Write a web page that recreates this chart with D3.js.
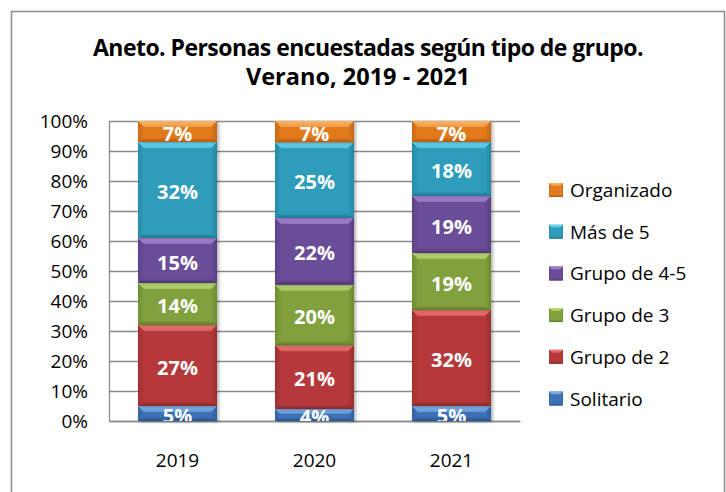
<!DOCTYPE html>
<html>
<head>
<meta charset="utf-8">
<script src="https://cdn.jsdelivr.net/npm/d3@7"></script>
<style>
  html, body { margin: 0; padding: 0; background: #fff; }
  svg { display: block; }
  text { font-family: "Open Sans", "Noto Sans", sans-serif; }
</style>
</head>
<body>
<svg id="chart" width="726" height="492"></svg>
<script>
// Survey share by group type, summer seasons
const years = ["2019", "2020", "2021"];
const seriesNames = ["Solitario", "Grupo de 2", "Grupo de 3", "Grupo de 4-5", "Más de 5", "Organizado"];
const solitario  = [5, 4, 5];
const grupo2     = [27, 21, 32];
const grupo3     = [14, 20, 19];
const grupo45    = [15, 22, 19];
const masDe5     = [32, 25, 18];
const organizado = [7, 7, 7];
const yTicks = [0, 0.1, 0.2, 0.3, 0.4, 0.5, 0.6, 0.7, 0.8, 0.9, 1];
const titleLines = ["Aneto.  Personas encuestadas según tipo de grupo.", "Verano, 2019 - 2021"];

// face / highlight / shade per series
const palette = {
  "Solitario":    { face: "#3d71b6", light: "#86b6ee", dark: "#2a548c" },
  "Grupo de 2":   { face: "#b5393a", light: "#f57c78", dark: "#852829" },
  "Grupo de 3":   { face: "#80a13c", light: "#c2e07a", dark: "#5e7a2a" },
  "Grupo de 4-5": { face: "#6a4d98", light: "#ad8dd8", dark: "#4b3673" },
  "Más de 5":     { face: "#2f9dbb", light: "#6edcf3", dark: "#1f7690" },
  "Organizado":   { face: "#e27a1f", light: "#fab466", dark: "#b05a10" }
};

const seriesValues = [solitario, grupo2, grupo3, grupo45, masDe5, organizado];

const rows = years.map((y, i) => {
  const r = { year: y };
  seriesNames.forEach((s, k) => { r[s] = seriesValues[k][i]; });
  return r;
});

const stacked = d3.stack().keys(seriesNames).offset(d3.stackOffsetExpand)(rows);

const svg = d3.select("#chart");
const defs = svg.append("defs");
const plot = { left: 109, right: 520, top: 121, bottom: 421 };

const x = d3.scaleBand().domain(years).range([plot.left, plot.right]).paddingInner(0.423).paddingOuter(0.2115);
const y = d3.scaleLinear().domain([0, 1]).range([plot.bottom, plot.top]);

// gradients for the bevel faces
seriesNames.forEach((s, k) => {
  const c = palette[s];
  const top = defs.append("linearGradient").attr("id", "top" + k).attr("x1", 0).attr("y1", 0).attr("x2", 0).attr("y2", 1);
  top.append("stop").attr("offset", 0).attr("stop-color", c.light);
  top.append("stop").attr("offset", 1).attr("stop-color", d3.interpolateRgb(c.light, c.face)(0.45));
  const bot = defs.append("linearGradient").attr("id", "bot" + k).attr("x1", 0).attr("y1", 0).attr("x2", 0).attr("y2", 1);
  bot.append("stop").attr("offset", 0).attr("stop-color", c.face);
  bot.append("stop").attr("offset", 1).attr("stop-color", c.dark);
  const face = defs.append("linearGradient").attr("id", "face" + k).attr("x1", 0).attr("y1", 0).attr("x2", 1).attr("y2", 0);
  face.append("stop").attr("offset", 0).attr("stop-color", d3.interpolateRgb(c.face, c.dark)(0.5));
  face.append("stop").attr("offset", 0.08).attr("stop-color", c.face);
  face.append("stop").attr("offset", 0.92).attr("stop-color", c.face);
  face.append("stop").attr("offset", 1).attr("stop-color", d3.interpolateRgb(c.face, c.dark)(0.6));
});

// outer frame
svg.append("rect").attr("x", 11.5).attr("y", 11.5).attr("width", 713).attr("height", 500)
  .attr("fill", "#fff").attr("stroke", "#8c8c8c").attr("stroke-width", 1.5);

// title
svg.append("text").attr("text-anchor", "middle")
  .attr("x", 368).attr("y", 56)
  .attr("font-weight", "700").attr("font-size", 23).attr("letter-spacing", -0.55).attr("fill", "#000")
  .text(titleLines[0]);
svg.append("text").attr("text-anchor", "middle")
  .attr("x", 358).attr("y", 85)
  .attr("font-weight", "700").attr("font-size", 23.5).attr("fill", "#000")
  .text(titleLines[1]);

// gridlines
svg.append("g")
  .attr("transform", `translate(${plot.left},0)`)
  .call(d3.axisLeft(y).tickValues(yTicks).tickSize(-(plot.right - plot.left)).tickFormat(""))
  .call(g => g.select(".domain").remove())
  .call(g => g.selectAll("line").attr("stroke", "#8a8a8a").attr("stroke-width", 1.3));

// y axis labels
svg.append("g")
  .attr("transform", `translate(${plot.left},0)`)
  .call(d3.axisLeft(y).tickValues(yTicks).tickSize(0).tickPadding(21).tickFormat(d3.format(".0%")))
  .call(g => g.select(".domain").attr("stroke", "#8a8a8a").attr("stroke-width", 1.3))
  .call(g => g.selectAll("text").attr("font-size", 19).attr("fill", "#000")
    .attr("font-family", "'Open Sans', sans-serif"));

// x axis
svg.append("g")
  .attr("transform", `translate(0,${plot.bottom})`)
  .call(d3.axisBottom(x).tickSize(0).tickPadding(33))
  .call(g => g.select(".domain").attr("stroke", "#8a8a8a").attr("stroke-width", 1.3))
  .call(g => g.selectAll("text").attr("font-size", 19).attr("fill", "#000")
    .attr("font-family", "'Open Sans', sans-serif"));

// clip for segment labels
svg.append("clipPath").attr("id", "plotClip")
  .append("rect").attr("x", plot.left).attr("y", plot.top - 2)
  .attr("width", plot.right - plot.left).attr("height", plot.bottom - plot.top + 2);

// bar shadow
const shadow = defs.append("filter").attr("id", "shadow").attr("x", "-10%").attr("y", "-10%").attr("width", "130%").attr("height", "130%");
shadow.append("feGaussianBlur").attr("in", "SourceAlpha").attr("stdDeviation", 1.5).attr("result", "b");
shadow.append("feOffset").attr("in", "b").attr("dx", 2).attr("dy", 1).attr("result", "o");
shadow.append("feComponentTransfer").attr("in", "o").attr("result", "s")
  .append("feFuncA").attr("type", "linear").attr("slope", 0.3);
const fm = shadow.append("feMerge");
fm.append("feMergeNode").attr("in", "s");
fm.append("feMergeNode").attr("in", "SourceGraphic");

const bars = svg.append("g");
const bw = x.bandwidth();
const pts = a => a.map(p => p.join(",")).join(" ");

stacked.forEach((layer, k) => {
  layer.forEach(d => {
    const x0 = x(d.data.year), x1 = x0 + bw;
    const yTop = y(d[1]), yBot = y(d[0]);
    const h = yBot - yTop;
    const b = Math.min(6, h / 2.5);
    const g = bars.append("g").attr("filter", "url(#shadow)");
    g.append("rect").attr("x", x0).attr("y", yTop).attr("width", bw).attr("height", h).attr("fill", `url(#face${k})`);
    // bevel: top highlight and bottom shading
    g.append("polygon").attr("points", pts([[x0, yTop], [x1, yTop], [x1 - b, yTop + b], [x0 + b, yTop + b]]))
      .attr("fill", `url(#top${k})`);
    g.append("polygon").attr("points", pts([[x0, yBot], [x1, yBot], [x1 - b, yBot - b * 0.8], [x0 + b, yBot - b * 0.8]]))
      .attr("fill", `url(#bot${k})`);
  });
});

// segment value labels
const labels = svg.append("g").attr("clip-path", "url(#plotClip)");
stacked.forEach((layer, k) => {
  layer.forEach((d, i) => {
    const v = seriesValues[k][i];
    labels.append("text")
      .attr("x", x(d.data.year) + bw / 2)
      .attr("y", (y(d[0]) + y(d[1])) / 2)
      .attr("dy", "0.45em")
      .attr("text-anchor", "middle")
      .attr("font-weight", "700").attr("font-size", 20).attr("fill", "#fff")
      .text(v + "%");
  });
});

// legend, top entry is the last series
const legendOrder = seriesNames.slice().reverse();
const legend = svg.append("g").attr("transform", "translate(549,183)");
legendOrder.forEach((s, i) => {
  const k = seriesNames.indexOf(s);
  const row = legend.append("g").attr("transform", `translate(0,${i * 41.7})`);
  row.append("rect").attr("width", 14).attr("height", 14).attr("fill", `url(#face${k})`);
  row.append("polygon").attr("points", "0,0 14,0 11,3 3,3").attr("fill", `url(#top${k})`);
  row.append("polygon").attr("points", "0,14 14,14 11,11.5 3,11.5").attr("fill", `url(#bot${k})`);
  row.append("text").attr("x", 21).attr("y", 14).attr("font-size", 19).attr("fill", "#000").text(s);
});
</script>
</body>
</html>
